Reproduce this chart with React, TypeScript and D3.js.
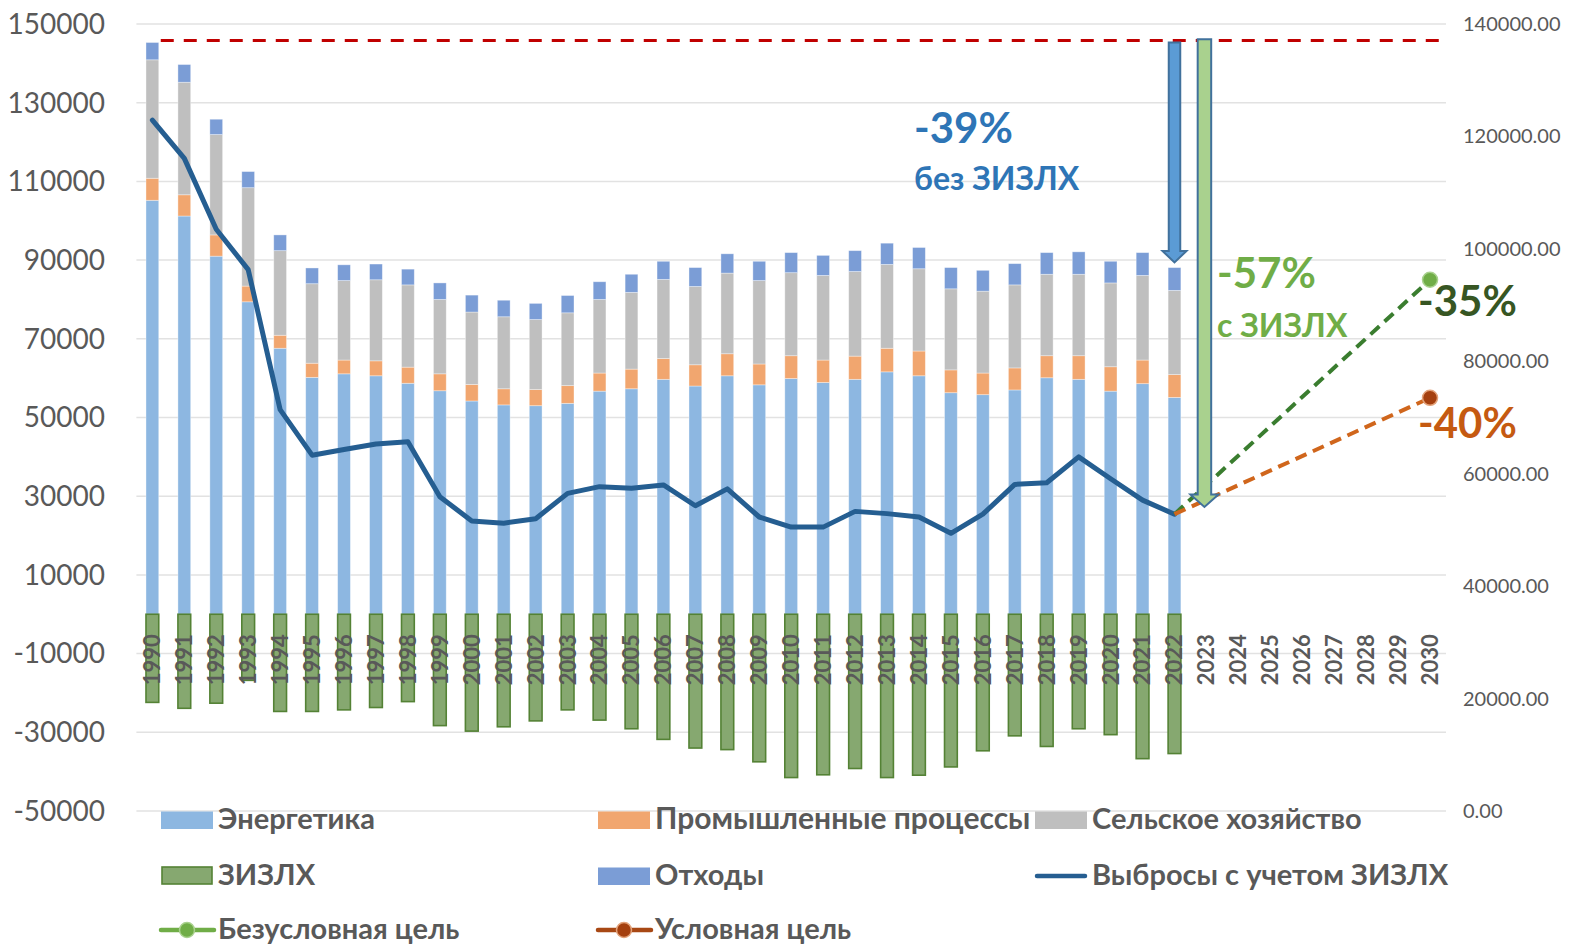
import * as d3 from "d3";

// years on the category axis (history + projection)
const allYears = [
  "1990", "1991", "1992", "1993", "1994", "1995", "1996", "1997", "1998", "1999",
  "2000", "2001", "2002", "2003", "2004", "2005", "2006", "2007", "2008", "2009",
  "2010", "2011", "2012", "2013", "2014", "2015", "2016", "2017", "2018", "2019",
  "2020", "2021", "2022", "2023", "2024", "2025", "2026", "2027", "2028", "2029", "2030",
];
const histYears = allYears.slice(0, 33);

// sector emissions, kt CO2-eq
const energy = [
  105200, 101200, 91000, 79400, 67600, 60200, 61100, 60600, 58700, 56800,
  54200, 53200, 53000, 53600, 56700, 57300, 59700, 58000, 60600, 58300,
  59900, 58900, 59700, 61600, 60600, 56300, 55800, 57000, 60100, 59700,
  56700, 58600, 55100,
];
const industry = [
  5600, 5400, 5400, 4000, 3300, 3600, 3500, 3800, 4100, 4300,
  4200, 4100, 4100, 4500, 4600, 5000, 5300, 5400, 5600, 5300,
  5800, 5700, 5900, 6000, 6300, 5800, 5500, 5600, 5600, 6000,
  6200, 6000, 5800,
];
const agriculture = [
  30100, 28600, 25500, 25000, 21500, 20200, 20200, 20600, 20900, 18900,
  18400, 18300, 17800, 18500, 18700, 19500, 20100, 19900, 20500, 21200,
  21100, 21500, 21500, 21300, 20900, 20600, 20800, 21100, 20700, 20700,
  21300, 21500, 21400,
];
const waste = [
  4400, 4500, 3900, 4100, 4000, 4000, 4000, 4000, 4000, 4200,
  4300, 4200, 4100, 4400, 4500, 4600, 4600, 4800, 4900, 4900,
  5100, 5100, 5300, 5400, 5400, 5400, 5300, 5400, 5500, 5700,
  5500, 5800, 5800,
];
const lulucf = [
  -22400, -23900, -22600, -16800, -24700, -24700, -24300, -23700, -22200, -28300,
  -29700, -28600, -27100, -24300, -26900, -29100, -31800, -34000, -34400, -37500,
  -41500, -40800, -39200, -41500, -40900, -38800, -34700, -30900, -33600, -29100,
  -30600, -36700, -35400,
];
// net emissions incl. LULUCF (secondary axis)
const netEmissions = [
  122900, 116100, 103500, 96300, 71400, 63300, 64300, 65300, 65700, 55900,
  51600, 51200, 52000, 56500, 57700, 57400, 58000, 54300, 57300, 52300,
  50500, 50500, 53300, 52900, 52300, 49400, 52800, 58100, 58400, 63000,
  59100, 55300, 52800,
];

// targets (secondary axis)
const targetYears = ["2022", "2030"];
const unconditionalTarget = [52800, 94500];
const conditionalTarget = [52800, 73500];
const level1990 = 145800;

const leftTicks = [150000, 130000, 110000, 90000, 70000, 50000, 30000, 10000, -10000, -30000, -50000];
const rightTicks = [140000, 120000, 100000, 80000, 60000, 40000, 20000, 0];

const W = 1573;
const H = 944;
const plotLeft = 136.4;
const plotRight = 1446;
const plotTop = 24;
const plotBottom = 811;
const FONT = "Lato, 'Open Sans', sans-serif";
const TXT = "#595959";

const C = {
  energy: "#8DB7E1",
  industry: "#F1A66F",
  agri: "#BFBFBF",
  waste: "#7B9DD6",
  lulucfFill: "#86A870",
  lulucfStroke: "#548235",
  net: "#255E91",
  red: "#C00000",
  greenDash: "#3A7D2F",
  greenMarker: "#70AD47",
  orangeDash: "#D0661C",
  orangeMarker: "#A5400F",
};

function arrowPath(cx: number, y0: number, y1: number, shaft: number, head: number, headH: number) {
  const s = shaft / 2;
  const h = head / 2;
  const yb = y1 - headH;
  return `M${cx - s},${y0} L${cx + s},${y0} L${cx + s},${yb} L${cx + h},${yb} L${cx},${y1} L${cx - h},${yb} L${cx - s},${yb} Z`;
}

export default function App() {
  const x = d3.scalePoint<string>().domain(allYears).range([plotLeft, plotRight]).padding(0.5);
  const step = x.step();
  const bw = step * 0.4;
  const yL = d3.scaleLinear().domain([-50000, 150000]).range([plotBottom, plotTop]);
  const yR = d3.scaleLinear().domain([0, 140000]).range([plotBottom, plotTop]);

  const rows = histYears.map((yr, i) => ({
    year: yr,
    energy: energy[i],
    industry: industry[i],
    agri: agriculture[i],
    waste: waste[i],
  }));
  const keys = ["energy", "industry", "agri", "waste"] as const;
  const stack = d3.stack<any>().keys(keys as any)(rows);
  const fills: Record<string, string> = { energy: C.energy, industry: C.industry, agri: C.agri, waste: C.waste };

  const netLine = d3
    .line<number>()
    .x((_, i) => x(histYears[i])!)
    .y((d) => yR(d));

  const targetLine = d3
    .line<number>()
    .x((_, i) => x(targetYears[i])!)
    .y((d) => yR(d));

  const x2022 = x("2022")!;
  const x2023 = x("2023")!;
  const x2030 = x("2030")!;

  const legendItems = [
    { label: "Энергетика", kind: "rect", color: C.energy, col: 0, row: 0 },
    { label: "Промышленные процессы", kind: "rect", color: C.industry, col: 1, row: 0 },
    { label: "Сельское хозяйство", kind: "rect", color: C.agri, col: 2, row: 0 },
    { label: "ЗИЗЛХ", kind: "lulucf", color: C.lulucfFill, col: 0, row: 1 },
    { label: "Отходы", kind: "rect", color: C.waste, col: 1, row: 1 },
    { label: "Выбросы с учетом ЗИЗЛХ", kind: "line", color: C.net, col: 2, row: 1 },
    { label: "Безусловная цель", kind: "marker", color: C.greenMarker, col: 0, row: 2 },
    { label: "Условная цель", kind: "marker", color: C.orangeMarker, col: 1, row: 2 },
  ];
  const legendCols = [161, 598, 1035];
  const legendRows = [829, 885, 939];

  return (
    <svg
      width={W}
      height={H}
      style={{ position: "absolute", left: 0, top: 0, background: "#fff" }}
      fontFamily={FONT}
    >
      {/* gridlines */}
      {leftTicks.map((t) => (
        <line key={"g" + t} x1={plotLeft} x2={plotRight} y1={yL(t)} y2={yL(t)} stroke="#E2E2E2" strokeWidth={1.5} />
      ))}

      {/* left axis labels */}
      {leftTicks.map((t) => (
        <text key={"l" + t} x={105} y={yL(t)} dy="0.35em" textAnchor="end" fontSize={28} fill={TXT}>
          {t}
        </text>
      ))}
      {/* right axis labels */}
      {rightTicks.map((t) => (
        <text key={"r" + t} x={1463} y={yR(t)} dy="0.35em" fontSize={20} fill={TXT}>
          {t.toFixed(2)}
        </text>
      ))}

      {/* stacked sector bars */}
      {stack.map((layer) => (
        <g key={layer.key} fill={fills[layer.key]}>
          {layer.map((d, i) => (
            <rect
              key={i}
              x={x(histYears[i])! - bw / 2}
              width={bw}
              y={yL(d[1])}
              height={yL(d[0]) - yL(d[1])}
              stroke="#ffffff"
              strokeOpacity={0.45}
              strokeWidth={0.8}
            />
          ))}
        </g>
      ))}

      {/* LULUCF bars */}
      <g>
        {lulucf.map((v, i) => (
          <rect
            key={i}
            x={x(histYears[i])! - bw / 2}
            width={bw}
            y={yL(0)}
            height={yL(v) - yL(0)}
            fill={C.lulucfFill}
            stroke={C.lulucfStroke}
            strokeWidth={1.6}
          />
        ))}
      </g>

      {/* year labels */}
      {allYears.map((yr) => (
        <text
          key={"y" + yr}
          transform={`translate(${x(yr)},${yL(0) + 20}) rotate(-90)`}
          textAnchor="end"
          dy="0.36em"
          fontSize={22}
          fontWeight="bold"
          fill={TXT}
        >
          {yr}
        </text>
      ))}

      {/* 1990 level */}
      <line
        x1={x("1990")! + bw / 2 + 2}
        x2={plotRight}
        y1={yL(level1990)}
        y2={yL(level1990)}
        stroke={C.red}
        strokeWidth={3}
        strokeDasharray="13 10"
      />

      {/* net emissions */}
      <path d={netLine(netEmissions) || ""} fill="none" stroke={C.net} strokeWidth={5} strokeLinejoin="round" strokeLinecap="round" />

      {/* targets */}
      <path d={targetLine(unconditionalTarget) || ""} fill="none" stroke={C.greenDash} strokeWidth={4} strokeDasharray="12 7" />
      <path d={targetLine(conditionalTarget) || ""} fill="none" stroke={C.orangeDash} strokeWidth={4} strokeDasharray="12 7" />
      <circle cx={x2030} cy={yR(unconditionalTarget[1])} r={7.5} fill={C.greenMarker} stroke="#A9D18E" strokeWidth={1.5} />
      <circle cx={x2030} cy={yR(conditionalTarget[1])} r={7.5} fill={C.orangeMarker} stroke="#E3A27A" strokeWidth={1.5} />

      {/* reduction arrows */}
      <path
        d={arrowPath(x2022, yL(145300), yL(89400), 11.5, 24, 11.5)}
        fill="#5B9BD5"
        stroke="#41719C"
        strokeWidth={2}
        strokeLinejoin="miter"
      />
      <path
        d={arrowPath(x2023 - 2, yL(146100), yR(54100), 13.5, 28, 12.5)}
        fill="#A9D18E"
        stroke="#41719C"
        strokeWidth={2}
      />

      {/* annotations */}
      <text x={914} y={143} fontSize={42} fontWeight="bold" fill="#2E75B6">-39%</text>
      <text x={914} y={190} fontSize={32} fontWeight="bold" fill="#2E75B6">без ЗИЗЛХ</text>
      <text x={1217} y={288} fontSize={42} fontWeight="bold" fill="#70AD47">-57%</text>
      <text x={1217} y={337} fontSize={32} fontWeight="bold" fill="#70AD47">с ЗИЗЛХ</text>
      <text x={x2030 - 12} y={yR(unconditionalTarget[1]) + 36} fontSize={42} fontWeight="bold" fill="#375623">-35%</text>
      <text x={x2030 - 12} y={yR(conditionalTarget[1]) + 40} fontSize={42} fontWeight="bold" fill="#C55A11">-40%</text>

      {/* legend */}
      {legendItems.map((it) => {
        const lx = legendCols[it.col];
        const base = legendRows[it.row];
        const cy = base - 9;
        return (
          <g key={it.label}>
            {it.kind === "rect" && <rect x={lx} y={base - 17.5} width={52} height={17.5} fill={it.color} />}
            {it.kind === "lulucf" && (
              <rect x={lx + 1} y={base - 18} width={50} height={17} fill={C.lulucfFill} stroke={C.lulucfStroke} strokeWidth={1.6} />
            )}
            {it.kind === "line" && (
              <line x1={lx + 2} x2={lx + 50} y1={cy} y2={cy} stroke={it.color} strokeWidth={4.5} strokeLinecap="round" />
            )}
            {it.kind === "marker" && (
              <g>
                <line
                  x1={lx}
                  x2={lx + 53}
                  y1={cy}
                  y2={cy}
                  stroke={it.col === 0 ? C.greenMarker : "#A84814"}
                  strokeWidth={4.5}
                  strokeLinecap="round"
                />
                <circle
                  cx={lx + 26}
                  cy={cy}
                  r={7.5}
                  fill={it.color}
                  stroke={it.col === 0 ? "#A9D18E" : "#E3A27A"}
                  strokeWidth={1.5}
                />
              </g>
            )}
            <text x={lx + 57} y={base} fontSize={it.col === 1 && it.row === 0 ? 30 : 29} fontWeight="bold" fill={TXT}>
              {it.label}
            </text>
          </g>
        );
      })}
    </svg>
  );
}
